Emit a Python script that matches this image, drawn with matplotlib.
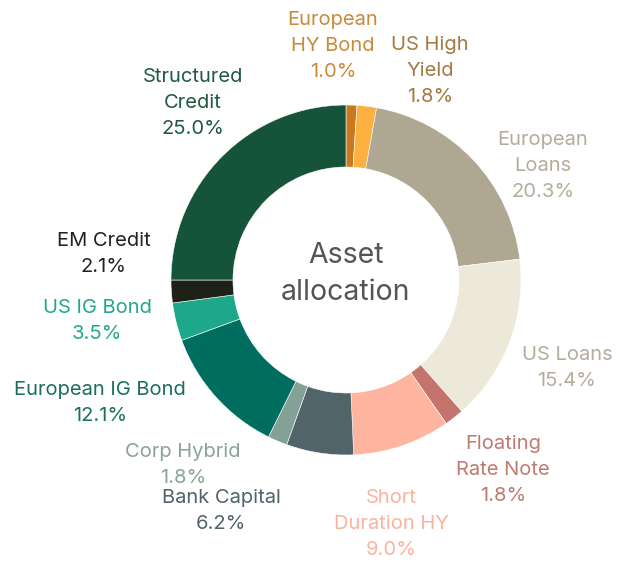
import matplotlib.pyplot as plt

# data
labels = ['European\nHY Bond', 'US High\nYield', 'European\nLoans', 'US Loans',
          'Floating\nRate Note', 'Short\nDuration HY', 'Bank Capital', 'Corp Hybrid',
          'European IG Bond', 'US IG Bond', 'EM Credit', 'Structured\nCredit']
values = [1.0, 1.8, 20.3, 15.4, 1.8, 9.0, 6.2, 1.8, 12.1, 3.5, 2.1, 25.0]
wedge_colors = ['#C97A1E', '#FBB040', '#B0A793', '#EDE9DA', '#C4736D', '#FDB5A0',
                '#51646A', '#85A096', '#006E5F', '#1DA88C', '#1E2118', '#15533A']
text_colors = ['#C98A3A', '#A27A42', '#B5AD9C', '#B5AD9C', '#C07A72', '#FBB3A0',
               '#51646A', '#8AA39A', '#1C6E60', '#22A88C', '#222222', '#1F5A40']

# label centres in pixel coordinates (top-left origin)
label_pos = [(333, 46), (430, 71), (543, 166), (567, 368), (503, 470), (391, 524),
             (221, 511), (183, 465), (100, 403), (97, 321), (104, 254), (193, 103)]

plt.rcParams['font.family'] = ['Inter', 'DejaVu Sans']

W, H = 630, 568
fig = plt.figure(figsize=(W / 100, H / 100), dpi=100)
ax = fig.add_axes([0, 0, 1, 1])

cx, cy = 346, H - 280
R = 175
ax.pie(values, colors=wedge_colors, startangle=90, counterclock=False,
       radius=R, center=(cx, cy), frame=True,
       wedgeprops=dict(width=62, edgecolor='white', linewidth=0.4))
ax.set_xlim(0, W)
ax.set_ylim(0, H)
ax.set_aspect('equal')
ax.axis('off')

ax.text(cx, cy + 6, 'Asset\nallocation', ha='center', va='center',
        fontsize=20.5, color='#555555', linespacing=1.45)

for lab, v, col, (x, y) in zip(labels, values, text_colors, label_pos):
    ax.text(x, H - y, f'{lab}\n{v:.1f}%', ha='center', va='center',
            fontsize=14.5, color=col, linespacing=1.55)

fig.savefig('out.png', dpi=100, facecolor='white')
